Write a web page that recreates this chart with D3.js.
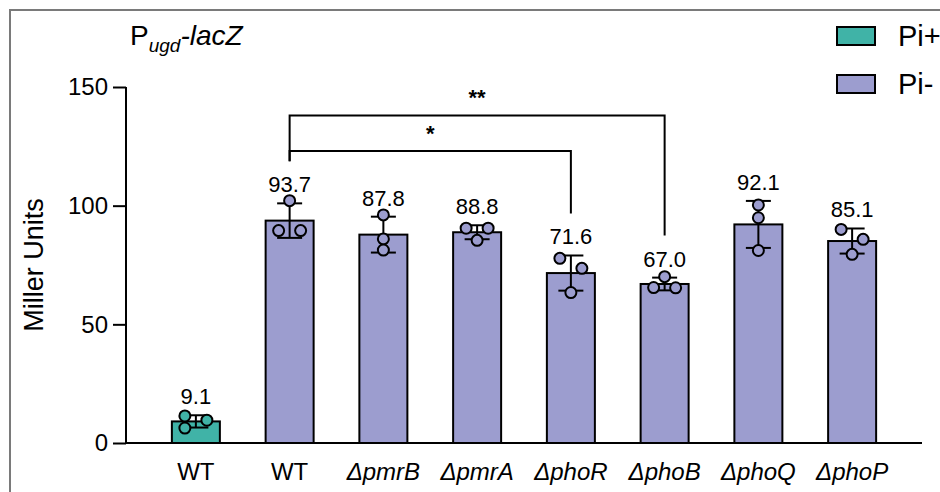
<!DOCTYPE html>
<html>
<head>
<meta charset="utf-8">
<script src="https://cdn.jsdelivr.net/npm/d3@7"></script>
<style>
  body { margin: 0; background: #fff; }
  text { font-family: "Liberation Sans", Arial, sans-serif; fill: #000; }
</style>
</head>
<body>
<svg id="chart" width="940" height="492"></svg>
<script>
// strains, conditions and read values
const categories = ["WT", "WT", "ΔpmrB", "ΔpmrA", "ΔphoR", "ΔphoB", "ΔphoQ", "ΔphoP"];
const conditions = ["Pi+", "Pi-", "Pi-", "Pi-", "Pi-", "Pi-", "Pi-", "Pi-"];
const means = [9.1, 93.7, 87.8, 88.8, 71.6, 67.0, 92.1, 85.1];
const replicates = [
  [11.4, 9.6, 6.3],
  [102.1, 89.5, 89.5],
  [96.1, 86.0, 81.3],
  [90.5, 90.5, 85.4],
  [77.8, 73.6, 63.4],
  [70.1, 65.5, 65.4],
  [100.3, 94.9, 81.1],
  [90.0, 85.8, 79.5]
];
const yTicks = [0, 50, 100, 150];
const legendItems = ["Pi+", "Pi-"];
// significance brackets: from bar index, to bar index, bracket level (Miller units), label
const comparisons = [
  {from: 1, to: 5, level: 138, label: "**"},
  {from: 1, to: 4, level: 123, label: "*"}
];

const colors = {"Pi+": "#40b3a7", "Pi-": "#9c9dcf"};
const svg = d3.select("#chart");

//frame around the figure
svg.append("rect").attr("x", 10).attr("y", 10).attr("width", 1000).attr("height", 1000)
  .attr("fill", "none").attr("stroke", "#7a7a7a").attr("stroke-width", 2);

const keys = categories.map((c, i) => i);
const x = d3.scaleBand().domain(keys).range([149, 899]).paddingInner(0.488).paddingOuter(0.244);
const y = d3.scaleLinear().domain([0, 150]).range([443, 87]);
const r = 5.5;

//y axis
const yAxis = svg.append("g").attr("transform", "translate(126,0)")
  .call(d3.axisLeft(y).tickValues(yTicks).tickSize(13).tickPadding(5));
yAxis.select(".domain").attr("stroke-width", 2).attr("d", "M0," + y(150) + "V" + y(0));
yAxis.selectAll(".tick line").attr("stroke-width", 2);
yAxis.selectAll(".tick text").attr("font-size", 24).attr("font-family", "Liberation Sans, Arial, sans-serif");

//x axis line
svg.append("line").attr("x1", 126).attr("x2", 922).attr("y1", y(0)).attr("y2", y(0))
  .attr("stroke", "#000").attr("stroke-width", 2);

svg.append("text").attr("transform", "translate(43," + y(75) + ") rotate(-90)")
  .attr("text-anchor", "middle").attr("font-size", 27).text("Miller Units");

//bars
svg.append("g").selectAll("rect").data(keys).join("rect")
  .attr("x", i => x(i)).attr("width", x.bandwidth())
  .attr("y", i => y(means[i])).attr("height", i => y(0) - y(means[i]))
  .attr("fill", i => colors[conditions[i]]).attr("stroke", "#000").attr("stroke-width", 2);

//error bars (mean +/- SD)
const cap = 12.5;
const labelBase = [];
keys.forEach(i => {
  const cx = x(i) + x.bandwidth() / 2;
  const sd = d3.deviation(replicates[i]);
  const g = svg.append("g").attr("stroke", "#000").attr("stroke-width", 2);
  g.append("line").attr("x1", cx).attr("x2", cx).attr("y1", y(means[i] - sd)).attr("y2", y(means[i] + sd));
  g.append("line").attr("x1", cx - cap).attr("x2", cx + cap).attr("y1", y(means[i] + sd)).attr("y2", y(means[i] + sd));
  g.append("line").attr("x1", cx - cap).attr("x2", cx + cap).attr("y1", y(means[i] - sd)).attr("y2", y(means[i] - sd));
  labelBase[i] = y(means[i] + sd) - 11;
});

//replicate points, dodged sideways when they collide
function dodge(vals) {
  const order = vals.map((v, j) => j).sort((a, b) => vals[b] - vals[a]);
  const groups = [];
  order.forEach((j, k) => {
    if (k > 0 && Math.abs(y(vals[j]) - y(vals[order[k - 1]])) < 10.5) groups[groups.length - 1].push(j);
    else groups.push([j]);
  });
  const off = [];
  groups.forEach(gr => {
    if (gr.length === 1) off[gr[0]] = 0;
    else gr.forEach((j, k) => { off[j] = k % 2 === 0 ? -11 : 11; });
  });
  return off;
}
keys.forEach(i => {
  const off = dodge(replicates[i]);
  const cx = x(i) + x.bandwidth() / 2;
  svg.append("g").selectAll("circle").data(replicates[i]).join("circle")
    .attr("cx", (d, j) => cx + off[j]).attr("cy", d => y(d)).attr("r", r)
    .attr("fill", colors[conditions[i]]).attr("stroke", "#000").attr("stroke-width", 2);
});

//value labels
svg.append("g").selectAll("text").data(keys).join("text")
  .attr("x", i => x(i) + x.bandwidth() / 2).attr("y", i => labelBase[i])
  .attr("text-anchor", "middle").attr("font-size", 22).text(i => means[i].toFixed(1));

//category labels
svg.append("g").selectAll("text").data(keys).join("text")
  .attr("x", i => x(i) + x.bandwidth() / 2).attr("y", 480)
  .attr("text-anchor", "middle").attr("font-size", 24)
  .attr("font-style", i => categories[i].startsWith("Δ") ? "italic" : "normal")
  .text(i => categories[i]);

//significance brackets
comparisons.forEach(c => {
  const x1 = x(c.from) + x.bandwidth() / 2;
  const x2 = x(c.to) + x.bandwidth() / 2;
  const yl = y(c.level);
  svg.append("path")
    .attr("d", "M" + x1 + "," + (labelBase[c.from] - 31) + "V" + yl + "H" + x2 + "V" + (labelBase[c.to] - 31))
    .attr("fill", "none").attr("stroke", "#000").attr("stroke-width", 2);
  svg.append("text").attr("x", (x1 + x2) / 2).attr("y", yl - 10)
    .attr("text-anchor", "middle").attr("font-size", 22).attr("font-weight", "bold").text(c.label);
});

//title
const title = svg.append("text").attr("x", 130).attr("y", 45).attr("font-size", 28);
title.append("tspan").text("P");
title.append("tspan").attr("font-size", 19).attr("font-style", "italic").attr("dy", 7).text("ugd");
title.append("tspan").attr("font-style", "italic").attr("dy", -7).text("-lacZ");

//legend
const legend = svg.append("g").selectAll("g").data(legendItems).join("g")
  .attr("transform", (d, i) => "translate(837," + (27 + i * 48) + ")");
legend.append("rect").attr("width", 38).attr("height", 18)
  .attr("fill", d => colors[d]).attr("stroke", "#000").attr("stroke-width", 2);
legend.append("text").attr("x", 61).attr("y", 19).attr("font-size", 29).text(d => d);
</script>
</body>
</html>
